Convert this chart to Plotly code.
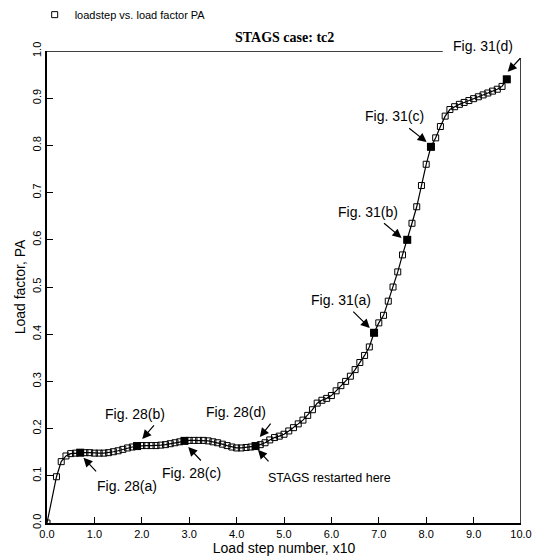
import plotly.graph_objects as go

# load step number (x10) and load factor PA
load_step = [0.0, 0.2, 0.3, 0.4, 0.5, 0.6, 0.7, 0.8, 0.9, 1.0,
             1.1, 1.2, 1.3, 1.4, 1.5, 1.6, 1.7, 1.8, 1.9, 2.0,
             2.1, 2.2, 2.3, 2.4, 2.5, 2.6, 2.7, 2.8, 2.9, 3.0,
             3.1, 3.2, 3.3, 3.4, 3.5, 3.6, 3.7, 3.8, 3.9, 4.0,
             4.1, 4.2, 4.3, 4.4, 4.5, 4.6, 4.7, 4.8, 4.9, 5.0,
             5.1, 5.2, 5.3, 5.4, 5.5, 5.6, 5.7, 5.8, 5.9, 6.0,
             6.1, 6.2, 6.3, 6.4, 6.5, 6.6, 6.7, 6.8, 6.9, 7.0,
             7.1, 7.2, 7.3, 7.4, 7.5, 7.6, 7.7, 7.8, 7.9, 8.0,
             8.1, 8.2, 8.3, 8.4, 8.5, 8.6, 8.7, 8.8, 8.9, 9.0,
             9.1, 9.2, 9.3, 9.4, 9.5, 9.6, 9.7]
load_factor = [0.000, 0.098, 0.130, 0.142, 0.147, 0.148, 0.149, 0.149, 0.149, 0.148,
               0.148, 0.148, 0.149, 0.151, 0.153, 0.156, 0.159, 0.161, 0.163, 0.164,
               0.164, 0.164, 0.164, 0.165, 0.166, 0.168, 0.170, 0.172, 0.174, 0.175,
               0.175, 0.175, 0.175, 0.174, 0.172, 0.170, 0.167, 0.164, 0.161, 0.159,
               0.159, 0.160, 0.161, 0.163, 0.166, 0.170, 0.176, 0.181, 0.184, 0.188,
               0.195, 0.202, 0.210, 0.218, 0.228, 0.240, 0.254, 0.260, 0.264, 0.270,
               0.280, 0.291, 0.300, 0.311, 0.325, 0.340, 0.355, 0.373, 0.403, 0.424,
               0.440, 0.470, 0.500, 0.532, 0.568, 0.600, 0.635, 0.670, 0.715, 0.760,
               0.797, 0.816, 0.840, 0.862, 0.876, 0.882, 0.887, 0.891, 0.895, 0.899,
               0.903, 0.907, 0.911, 0.915, 0.919, 0.925, 0.940]

# highlighted steps (figures referenced)
fig_steps = [0.7, 1.9, 2.9, 4.4, 6.9, 7.6, 8.1, 9.7]
fig_factors = [load_factor[load_step.index(s)] for s in fig_steps]

# annotation labels: text, text position (fraction of axes), arrow head (x, y), tail offset (px)
labels = ["Fig. 28(a)", "Fig. 28(b)", "Fig. 28(c)", "Fig. 28(d)", "STAGS restarted here",
          "Fig. 31(a)", "Fig. 31(b)", "Fig. 31(c)", "Fig. 31(d)"]
label_sizes = [14, 14, 14, 14, 12.5, 14, 14, 14, 14]
label_x = [0.169, 0.186, 0.304, 0.399, 0.597, 0.620, 0.677, 0.734, 0.919]
label_y = [0.078, 0.231, 0.106, 0.235, 0.095, 0.472, 0.659, 0.862, 1.011]
head_x = [0.77, 2.01, 2.98, 4.49, 4.45, 6.81, 7.48, 8.01, 9.72]
head_y = [0.138, 0.178, 0.161, 0.182, 0.155, 0.413, 0.604, 0.807, 0.956]
tail_dx = [14, 13, 14, 12, 12, -18, -19, -19, 14]
tail_dy = [15, -15, 15, -15, 13, -18, -16, -15, -15]

x_ticks = [0, 1, 2, 3, 4, 5, 6, 7, 8, 9, 10]
x_ticklabels = ["0.0", "1.0", "2.0", "3.0", "4.0", "5.0", "6.0", "7.0", "8.0", "9.0", "10.0"]
y_ticks = [0.0, 0.1, 0.2, 0.3, 0.4, 0.5, 0.6, 0.7, 0.8, 0.9, 1.0]
y_ticklabels = ["0.0", "0.1", "0.2", "0.3", "0.4", "0.5", "0.6", "0.7", "0.8", "0.9", "1.0"]

FONT = "Liberation Sans, Arial, sans-serif"

fig = go.Figure()
fig.add_trace(go.Scatter(x=load_step, y=load_factor, mode="lines",
                         line=dict(color="black", width=1.2), showlegend=False,
                         hoverinfo="skip"))
fig.add_trace(go.Scatter(x=load_step, y=load_factor, mode="markers",
                         marker=dict(symbol="square-open", size=6, color="black",
                                     line=dict(width=1, color="black")),
                         name="loadstep vs. load factor PA"))
fig.add_trace(go.Scatter(x=fig_steps, y=fig_factors, mode="markers",
                         marker=dict(symbol="square", size=8, color="black"),
                         showlegend=False))

annotations = []
for t, tx, ty, fs in zip(labels, label_x, label_y, label_sizes):
    annotations.append(dict(x=tx, y=ty, xref="paper", yref="paper", text=t,
                            showarrow=False, xanchor="center", yanchor="middle",
                            font=dict(family=FONT, size=fs, color="black")))
for hx, hy, dx, dy in zip(head_x, head_y, tail_dx, tail_dy):
    annotations.append(dict(x=hx, y=hy, text="", showarrow=True, ax=dx, ay=dy,
                            arrowhead=2, arrowsize=1.5, arrowwidth=1.2,
                            arrowcolor="black"))
annotations.append(dict(x=0.5, y=1.0, xref="paper", yref="paper", yshift=14,
                        xanchor="center", yanchor="middle",
                        text="<b>STAGS case: tc2</b>", showarrow=False,
                        font=dict(family="Liberation Serif, Times New Roman, serif",
                                  size=14, color="black")))

fig.update_layout(
    width=537, height=559,
    margin=dict(l=46.5, r=15.5, t=51, b=36, autoexpand=False),
    paper_bgcolor="white", plot_bgcolor="white",
    font=dict(family=FONT, color="black"),
    annotations=annotations,
    legend=dict(x=-0.026, y=1.077, xanchor="left", yanchor="middle",
                font=dict(family=FONT, size=11, color="black"),
                bgcolor="rgba(0,0,0,0)"),
    shapes=[
        dict(type="line", xref="x", yref="y", x0=0, x1=8.35, y0=1.0, y1=1.0,
             line=dict(color="black", width=1.5)),
        dict(type="line", xref="x", yref="y", x0=10, x1=10, y0=0, y1=0.985,
             line=dict(color="black", width=1.5)),
    ],
)
fig.update_xaxes(range=[0, 10], tickvals=x_ticks, ticktext=x_ticklabels,
                 showgrid=False, zeroline=False, showline=True, linecolor="black",
                 linewidth=1.5, ticks="inside", ticklen=6, tickcolor="black",
                 automargin=False,
                 tickfont=dict(family=FONT, size=11),
                 title=dict(text="Load step number, x10", font=dict(family=FONT, size=14),
                            standoff=2))
fig.update_yaxes(range=[0, 1], tickvals=y_ticks, ticktext=y_ticklabels,
                 showgrid=False, zeroline=False, showline=True, linecolor="black",
                 linewidth=1.5, ticks="inside", ticklen=6, tickcolor="black",
                 automargin=False,
                 tickangle=-90, tickfont=dict(family=FONT, size=11),
                 title=dict(text="Load factor, PA", font=dict(family=FONT, size=14),
                            standoff=2))

fig.write_html("out.html")
